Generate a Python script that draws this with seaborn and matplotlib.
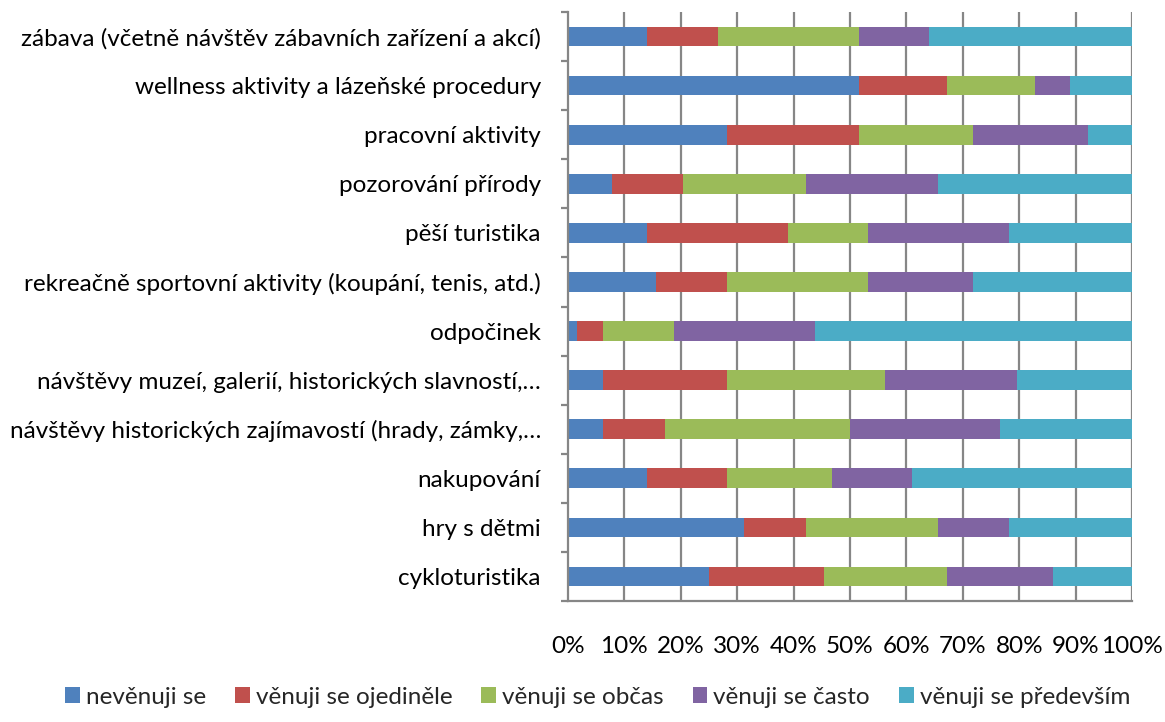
import numpy as np
import pandas as pd
import matplotlib
matplotlib.use("Agg")
import matplotlib.pyplot as plt
from matplotlib.patches import Patch
from matplotlib.ticker import FixedLocator, PercentFormatter
import seaborn as sns

# Activities (top to bottom) and answer counts per response level (64 respondents)
activities = [
    "zábava (včetně návštěv zábavních zařízení a akcí)",
    "wellness aktivity a lázeňské procedury",
    "pracovní aktivity",
    "pozorování přírody",
    "pěší turistika",
    "rekreačně sportovní aktivity (koupání, tenis, atd.)",
    "odpočinek",
    "návštěvy muzeí, galerií, historických slavností,…",
    "návštěvy historických zajímavostí (hrady, zámky,…",
    "nakupování",
    "hry s dětmi",
    "cykloturistika",
]

nevenuji = [9, 33, 18, 5, 9, 10, 1, 4, 4, 9, 20, 16]
ojedinele = [8, 10, 15, 8, 16, 8, 3, 14, 7, 9, 7, 13]
obcas = [16, 10, 13, 14, 9, 16, 8, 18, 21, 12, 15, 14]
casto = [8, 4, 13, 15, 16, 12, 16, 15, 17, 9, 8, 12]
predevsim = [23, 7, 5, 22, 14, 18, 36, 13, 15, 25, 14, 9]

series_names = ["nevěnuji se", "věnuji se ojediněle", "věnuji se občas",
                "věnuji se často", "věnuji se především"]
series_colors = ["#4F81BD", "#C0504D", "#9BBB59", "#8064A2", "#4BACC6"]

counts = np.array([nevenuji, ojedinele, obcas, casto, predevsim], dtype=float)
shares = counts / counts.sum(axis=0) * 100
cumulative = np.cumsum(shares, axis=0)

sns.set_theme(style="white")
plt.rcParams["font.family"] = ["Lato", "DejaVu Sans"]

fig = plt.figure(figsize=(11.65, 7.22), dpi=100)
ax = fig.add_axes([568 / 1165, 1 - 601 / 722, (1132 - 568) / 1165, (601 - 12) / 722])

grid_color = "#868686"
for xv in range(10, 101, 10):
    ax.axvline(xv, color=grid_color, lw=1.6, zorder=0)

# Stacked bars: draw cumulative totals from the last level backwards
for i in range(len(series_names) - 1, -1, -1):
    df = pd.DataFrame({"activity": activities, "value": cumulative[i]})
    sns.barplot(data=df, x="value", y="activity", orient="h", color=series_colors[i],
                saturation=1, width=0.4, ax=ax, zorder=2, edgecolor="none")

ax.set_xlim(0, 100)
ax.set_ylim(len(activities) - 0.5, -0.5)
ax.set_xlabel("")
ax.set_ylabel("")
ax.set_xticks(range(0, 101, 10))
ax.xaxis.set_major_formatter(PercentFormatter(decimals=0))

for side in ["top", "right"]:
    ax.spines[side].set_visible(False)
for side in ["left", "bottom"]:
    ax.spines[side].set_color(grid_color)
    ax.spines[side].set_linewidth(1.6)

ax.tick_params(axis="x", direction="out", length=5, width=1.6, color=grid_color,
               pad=20, labelsize=17.5, labelcolor="#000000")
ax.tick_params(axis="y", which="major", length=0, pad=19.5, labelsize=17.5,
               labelcolor="#000000")
ax.yaxis.set_minor_locator(FixedLocator(np.arange(-0.5, len(activities), 1.0)))
ax.tick_params(axis="y", which="minor", direction="out", length=5, width=1.6,
               color=grid_color, left=True)

handles = [Patch(facecolor=c, edgecolor="none") for c in series_colors]
fig.legend(handles, series_names, loc="center", bbox_to_anchor=(0.513, 1 - 697 / 722),
           ncol=5, frameon=False, fontsize=17.5, handlelength=0.6, handleheight=0.6,
           handletextpad=0.25, columnspacing=1.2)

fig.savefig("out.png", dpi=100)
